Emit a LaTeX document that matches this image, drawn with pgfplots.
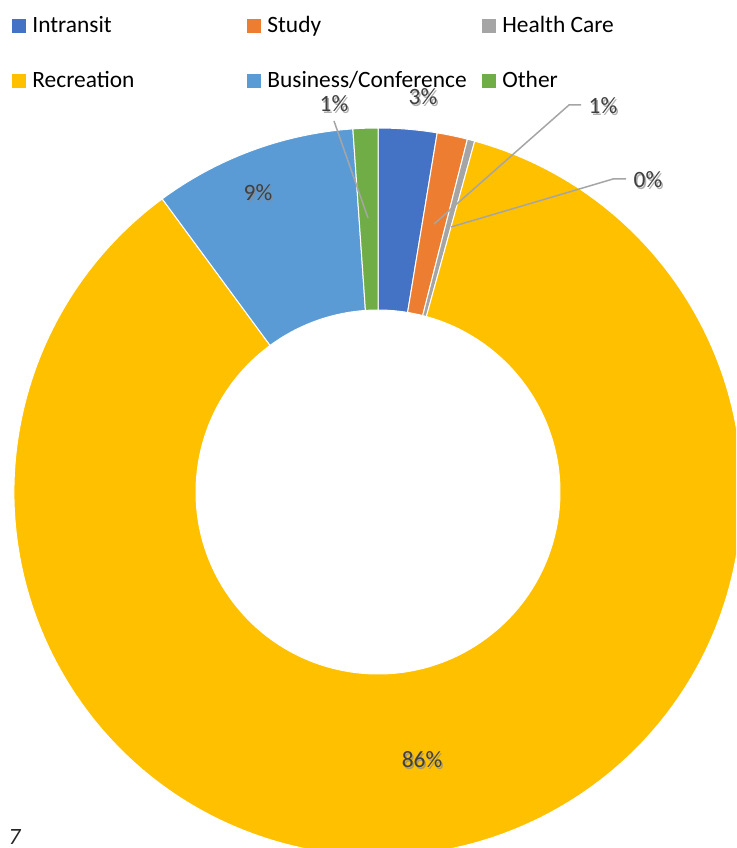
\documentclass[border=0pt]{standalone}
\usepackage{pgfplots}
\pgfplotsset{compat=1.18}
\usepackage{pgfplotstable}
\usepackage{fontspec}
\setmainfont{Carlito}
\usetikzlibrary{calc}

\definecolor{cIntransit}{HTML}{4472C4}
\definecolor{cStudy}{HTML}{ED7D31}
\definecolor{cHealth}{HTML}{A5A5A5}
\definecolor{cRecreation}{HTML}{FFC000}
\definecolor{cBusiness}{HTML}{5B9BD5}
\definecolor{cOther}{HTML}{70AD47}
\definecolor{lbltext}{HTML}{404040}
\definecolor{leader}{HTML}{A5A5A5}

% share of each purpose, clockwise from 12 o'clock
\pgfplotstableread{
name value col
Intransit 2.6 cIntransit
Study 1.35 cStudy
HealthCare 0.33 cHealth
Recreation 85.62 cRecreation
Business 9.0 cBusiness
Other 1.1 cOther
}\slices

\newcommand{\lbl}[3]{%
  \node[text=black!45, opacity=0.7, inner sep=0] at (axis cs:#1+1.5,#2-1.5) {#3};
  \node[text=lbltext, inner sep=0] at (axis cs:#1,#2) {#3};}

\begin{document}
\begin{tikzpicture}[every node/.style={font=\fontsize{11.7}{14}\selectfont}]
\def\cx{378}\def\cy{-492}
\def\Rout{182pt}\def\Rin{91pt}
\begin{axis}[name=ax, width=368pt, height=424pt, scale only axis,
  xmin=0, xmax=736, ymin=-848, ymax=0, enlargelimits=false,
  hide axis, clip=true]
  \def\cum{0}
  \pgfplotsforeachungrouped \i in {0,...,5}{%
    \pgfplotstablegetelem{\i}{value}\of\slices \let\v=\pgfplotsretval
    \pgfplotstablegetelem{\i}{col}\of\slices \let\c=\pgfplotsretval
    \pgfmathsetmacro{\a}{90-3.6*\cum}
    \pgfmathsetmacro{\cum}{\cum+\v}
    \pgfmathsetmacro{\b}{90-3.6*\cum}
    \edef\cmd{\noexpand\filldraw[fill=\c, draw=white, line width=0.5pt]
      ($(axis cs:\cx,\cy)+(\a:\Rout)$) arc[start angle=\a, end angle=\b, radius=\Rout]
      -- ($(axis cs:\cx,\cy)+(\b:\Rin)$) arc[start angle=\b, end angle=\a, radius=\Rin]
      -- cycle;}
    \cmd
  }

  % leader lines
  \draw[leader, line width=0.75pt] (axis cs:368,-218) -- (axis cs:334,-121);
  \draw[leader, line width=0.75pt] (axis cs:434,-224) -- (axis cs:569,-105) -- (axis cs:581,-105);
  \draw[leader, line width=0.75pt] (axis cs:451,-227) -- (axis cs:613,-179) -- (axis cs:626,-179);

  % data labels
  \lbl{423}{-97}{3\%}
  \lbl{334}{-104}{1\%}
  \lbl{603}{-106}{1\%}
  \lbl{648}{-180}{0\%}
  \lbl{258}{-193}{9\%}
  \lbl{422}{-760}{86\%}

  % legend
  \fill[cIntransit] (axis cs:12,-19) rectangle (axis cs:26,-33);
  \node[anchor=base west, inner sep=0] at (axis cs:32,-33) {Intransit};
  \fill[cStudy] (axis cs:247,-19) rectangle (axis cs:261,-33);
  \node[anchor=base west, inner sep=0] at (axis cs:267,-33) {Study};
  \fill[cHealth] (axis cs:482,-19) rectangle (axis cs:496,-33);
  \node[anchor=base west, inner sep=0] at (axis cs:502,-33) {Health Care};
  \fill[cRecreation] (axis cs:12,-74) rectangle (axis cs:26,-88);
  \node[anchor=base west, inner sep=0] at (axis cs:32,-88) {Recreation};
  \fill[cBusiness] (axis cs:247,-74) rectangle (axis cs:261,-88);
  \node[anchor=base west, inner sep=0] at (axis cs:267,-88) {Business/Conference};
  \fill[cOther] (axis cs:482,-74) rectangle (axis cs:496,-88);
  \node[anchor=base west, inner sep=0] at (axis cs:502,-88) {Other};

  % page number
  \node[text=black!85, inner sep=0, font=\fontsize{11.7}{14}\selectfont\itshape] at (axis cs:14.5,-837) {7};
\end{axis}
\pgfresetboundingbox
\path[use as bounding box] (ax.south west) rectangle (ax.north east);
\end{tikzpicture}
\end{document}
